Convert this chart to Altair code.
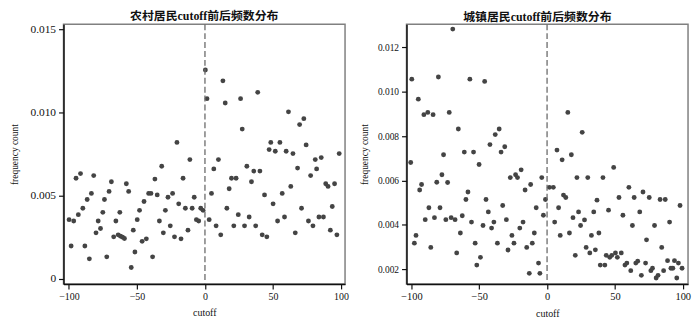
import altair as alt
import pandas as pd

# ---- data ----
rural_cutoff = [-99.9, -98.4, -96.5, -94.8, -93.1, -91.5, -89.8, -88.3, -86.6, -85.0,
                -83.5, -81.8, -80.1, -78.5, -76.8, -75.1, -73.9, -72.2, -70.5, -68.8,
                -67.1, -65.5, -63.8, -62.6, -62.1, -60.6, -59.2, -57.8, -56.1, -54.2,
                -52.7, -51.5, -49.8, -48.1, -46.2, -44.8, -43.1, -41.4, -39.7, -38.5,
                -36.8, -35.1, -33.5, -31.8, -30.6, -29.1, -27.2, -25.5, -23.8, -22.4,
                -20.6, -19.3, -17.6, -16.1, -14.4, -12.5, -11.1, -9.4, -7.9, -6.3,
                -4.6, -3.1, -1.4,
                0.3, 1.5, 3.1, 4.8, 6.5, 8.2, 9.9, 11.6, 13.2, 14.9,
                16.1, 17.8, 19.5, 21.2, 22.9, 24.5, 26.2, 27.4, 29.1, 30.8,
                32.5, 34.2, 35.9, 37.3, 38.8, 40.4, 42.1, 43.8, 45.5, 47.2,
                48.4, 50.1, 51.7, 53.4, 55.1, 56.8, 58.5, 59.7, 61.4, 63.1,
                64.7, 66.4, 68.1, 69.6, 71.0, 72.7, 74.4, 76.1, 77.7, 79.4,
                81.1, 82.1, 83.8, 85.5, 87.1, 88.8, 90.5, 92.2, 93.6, 95.3,
                97.0, 98.7]
rural_freq = [0.00356, 0.00198, 0.00348, 0.00605, 0.00386, 0.00633, 0.00425, 0.00198, 0.00477, 0.00121,
              0.00514, 0.00621, 0.00277, 0.00348, 0.00303, 0.00400, 0.00477, 0.00133, 0.00526, 0.00584,
              0.00253, 0.00348, 0.00265, 0.00400, 0.00257, 0.00251, 0.00243, 0.00572, 0.00526, 0.00069,
              0.00293, 0.00162, 0.00356, 0.00412, 0.00226, 0.00465, 0.00241, 0.00514, 0.00514, 0.00133,
              0.00600, 0.00505, 0.00348, 0.00677, 0.00277, 0.00412, 0.00491, 0.00319, 0.00514, 0.00253,
              0.00820, 0.00451, 0.00241, 0.00605, 0.00425, 0.00293, 0.00717, 0.00425, 0.00491, 0.00356,
              0.00348, 0.00425, 0.00412,
              0.01255, 0.01083, 0.00356, 0.00514, 0.00661, 0.00319, 0.00717, 0.00265, 0.01190, 0.01057,
              0.00425, 0.00542, 0.00605, 0.00319, 0.00605, 0.00386, 0.01083, 0.00900, 0.00319, 0.00677,
              0.00372, 0.00584, 0.00648, 0.00319, 0.01121, 0.00648, 0.00265, 0.00505, 0.00253, 0.00777,
              0.00820, 0.00451, 0.00767, 0.00348, 0.00820, 0.00514, 0.00372, 0.00767, 0.01004, 0.00556,
              0.00753, 0.00277, 0.00666, 0.00927, 0.00425, 0.00963, 0.00805, 0.00348, 0.00621, 0.00319,
              0.00717, 0.00661, 0.00372, 0.00729, 0.00372, 0.00572, 0.00556, 0.00293, 0.00435, 0.00572,
              0.00265, 0.00753]

urban_cutoff = [-100.5, -99.7, -97.8, -96.6, -94.9, -93.9, -92.5, -90.8, -89.8, -87.9,
                -87.1, -85.7, -84.0, -83.0, -81.3, -80.1, -78.9, -77.5, -76.3, -74.6,
                -73.3, -72.1, -70.7, -69.5, -67.8, -66.6, -65.4, -63.9, -62.5, -61.0,
                -59.8, -58.3, -56.9, -55.7, -54.2, -53.0, -51.8, -50.1, -49.1, -47.2,
                -46.0, -45.0, -43.3, -42.1, -40.9, -39.2, -38.2, -36.6, -35.3, -33.9,
                -32.7, -31.2, -30.0, -28.8, -27.1, -25.9, -24.4, -23.2, -21.8, -20.1,
                -19.1, -17.7, -16.2, -15.0, -13.1, -12.1, -10.9, -9.4, -8.0, -6.3,
                -5.3, -3.9, -2.7, -1.2,
                1.7, 4.6, 5.6, 7.3, 8.5, 9.7, 11.1, 12.1, 13.8, 15.3,
                16.5, 17.9, 19.1, 20.8, 22.0, 23.2, 24.7, 25.9, 27.6, 28.8,
                30.0, 31.5, 32.7, 34.4, 35.6, 36.8, 38.2, 39.2, 41.2, 42.6,
                43.6, 45.3, 46.2, 47.7, 49.1, 50.4, 51.8, 53.0, 54.7, 55.9,
                57.4, 58.8, 60.3, 61.7, 62.9, 64.2, 65.4, 66.8, 68.3, 69.5,
                70.7, 72.6, 73.3, 75.3, 76.5, 77.7, 79.2, 80.4, 81.8, 83.3,
                84.5, 85.9, 87.1, 88.8, 90.3, 91.3, 92.7, 93.9, 95.6, 96.8,
                98.0, 99.5]
urban_freq = [0.00681, 0.01057, 0.00317, 0.00352, 0.00967, 0.00557, 0.00582, 0.00897, 0.00423, 0.00907,
              0.00477, 0.00298, 0.00897, 0.00432, 0.00592, 0.01067, 0.00477, 0.00626, 0.00716, 0.00423,
              0.00591, 0.00907, 0.00432, 0.01283, 0.00423, 0.00273, 0.00832, 0.00363, 0.00441, 0.00728,
              0.00514, 0.00548, 0.01057, 0.00412, 0.00728, 0.00317, 0.00218, 0.00672, 0.00253, 0.00397,
              0.01047, 0.00514, 0.00458, 0.00762, 0.00385, 0.00412, 0.00807, 0.00317, 0.00832, 0.00728,
              0.00487, 0.00752, 0.00423, 0.00286, 0.00613, 0.00352, 0.00317, 0.00626, 0.00613, 0.00385,
              0.00648, 0.00412, 0.00557, 0.00298, 0.00181, 0.00582, 0.00317, 0.00363, 0.00477, 0.00227,
              0.00181, 0.00613, 0.00443, 0.00514,
              0.00569, 0.00569, 0.00412, 0.00737, 0.00477, 0.00352, 0.00693, 0.00534, 0.00523, 0.00907,
              0.00363, 0.00716, 0.00432, 0.00262, 0.00613, 0.00458, 0.00397, 0.00817, 0.00422, 0.00298,
              0.00613, 0.00273, 0.00352, 0.00458, 0.00287, 0.00511, 0.00363, 0.00218, 0.00613, 0.00218,
              0.00262, 0.00466, 0.00253, 0.00262, 0.00659, 0.00273, 0.00253, 0.00523, 0.00273, 0.00443,
              0.00218, 0.00227, 0.00569, 0.00193, 0.00397, 0.00523, 0.00227, 0.00236, 0.00458, 0.00172,
              0.00548, 0.00227, 0.00332, 0.00523, 0.00193, 0.00204, 0.00397, 0.00160, 0.00172, 0.00514,
              0.00298, 0.00193, 0.00514, 0.00238, 0.00412, 0.00204, 0.00204, 0.00238, 0.00160, 0.00227,
              0.00487, 0.00204]

x_ticks = [-100, -50, 0, 50, 100]
rural_y_ticks = [0, 0.005, 0.010, 0.015]
urban_y_ticks = [0.002, 0.004, 0.006, 0.008, 0.010, 0.012]
rural_title = "农村居民cutoff前后频数分布"
urban_title = "城镇居民cutoff前后频数分布"

FONT = "Liberation Serif, Noto Sans CJK SC"
SERIF = "Liberation Serif"


def panel(xs, ys, title, xdomain, ydomain, yticks, ylab_size, xlab_size,
          ytitle_pad, title_dx):
    df = pd.DataFrame({"cutoff": xs, "freq": ys})
    xenc = alt.X("cutoff:Q",
                 scale=alt.Scale(domain=xdomain, nice=False, zero=False),
                 axis=alt.Axis(values=x_ticks, title="cutoff", labelFontSize=xlab_size,
                               titleFontSize=10, titlePadding=6, labelPadding=3))
    pts = alt.Chart(df).mark_circle(size=24, color="#444444", opacity=1).encode(
        x=xenc,
        y=alt.Y("freq:Q",
                scale=alt.Scale(domain=ydomain, nice=False, zero=False),
                axis=alt.Axis(values=yticks, title="frequency count",
                              labelExpr="datum.value == 0 ? '0' : format(datum.value, '.3f')",
                              labelFontSize=ylab_size, titleFontSize=9.5,
                              titlePadding=ytitle_pad, labelPadding=3)),
    )
    rule = alt.Chart(pd.DataFrame({"cutoff": [0]})).mark_rule(
        color="#6a6a6a", strokeDash=[6, 3], strokeWidth=1.3
    ).encode(x=xenc)
    return alt.layer(pts, rule).properties(
        width=284, height=262,
        title=alt.TitleParams(title, font=FONT, fontSize=12, fontWeight="bold",
                              anchor="middle", offset=0, dx=title_dx, color="#111111"),
    )


left = panel(rural_cutoff, rural_freq, rural_title, [-104, 103], [-0.0003, 0.0153],
             rural_y_ticks, 11.5, 10, 11, 0)
right = panel(urban_cutoff, urban_freq, urban_title, [-103.6, 103.9], [0.00133, 0.01305],
              urban_y_ticks, 9.5, 10.5, 8, -10)

chart = alt.hconcat(left, right, spacing=8).properties(
    padding={"left": 0, "top": 0, "right": 0, "bottom": 0}
).configure_view(
    stroke="#808080", strokeWidth=1.5
).configure_axis(
    grid=False, domainColor="#111111", domainWidth=1.5, tickColor="#111111",
    tickSize=5, tickWidth=1.2, labelFont=SERIF, titleFont=SERIF, labelColor="#111111",
    titleColor="#111111", titleFontWeight="normal"
)

chart.save("out.html", embed_options={"renderer": "svg", "actions": False})
